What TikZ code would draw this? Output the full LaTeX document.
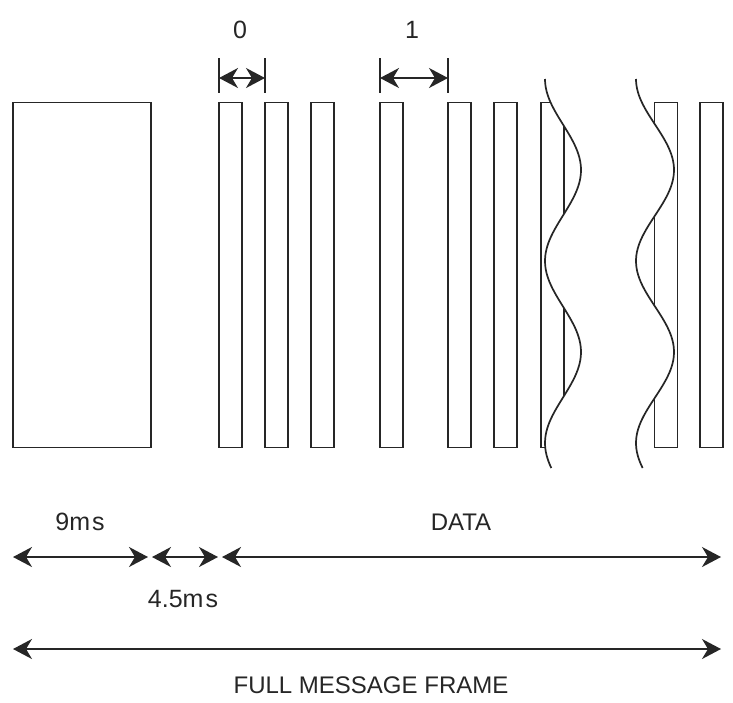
\documentclass[tikz,border=0pt]{standalone}
\usepackage{fontspec}
\setmainfont{Liberation Sans}
\usetikzlibrary{arrows.meta}
\begin{document}
\begin{tikzpicture}[x=1pt,y=-1pt,
  ln/.style={line width=1.7pt, draw=black!85},
  bar/.style={ln, rectangle, inner sep=0pt, minimum width=23pt, minimum height=345pt},
  bigbox/.style={ln, rectangle, inner sep=0pt, minimum width=138pt, minimum height=345pt},
  dim/.style={ln, {Stealth[length=19pt,width=20pt,inset=6pt]}-{Stealth[length=19pt,width=20pt,inset=6pt]}},
  lbl/.style={font=\fontsize{25}{30}\selectfont, text=black!85, inner sep=0pt},
  lblb/.style={font=\fontsize{24}{29}\selectfont, text=black!85, inner sep=0pt},
  wave/.style={line width=1.7pt, draw=black!85}]
\useasboundingbox (0,0) rectangle (733,702);
\fill[white] (0,0) rectangle (733,702);
% large header pulse
\node[bigbox] (hdr) at (82,275) {};
% bars
\node[bar] (b1) at (230.5,275) {};
\node[bar] (b2) at (276.5,275) {};
\node[bar] (b3) at (322.5,275) {};
\node[bar] (b4) at (391.5,275) {};
\node[bar] (b5) at (459.5,275) {};
\node[bar] (b6) at (505.5,275) {};
\node[bar] (b7) at (552.5,275) {};
\node[bar] (b8) at (666,275) {};
\node[bar] (b9) at (711.5,275) {};
% break region (mask)
\path[fill=white] plot[domain=0:389, samples=120, variable=\t] ({563-18*cos(\t*1.978)}, {79+\t})
  -- plot[domain=0:389, samples=120, variable=\t] ({655-19*cos((389-\t)*1.978)}, {468-\t}) -- cycle;
\draw[wave] plot[domain=0:389, samples=120, variable=\t, smooth] ({563-18*cos(\t*1.978)}, {79+\t});
\draw[wave] plot[domain=0:389, samples=120, variable=\t, smooth] ({655-19*cos(\t*1.978)}, {79+\t});
% top brackets
\coordinate (t0a) at (219,58); \coordinate (t0b) at (219,93);
\coordinate (t0c) at (265,58); \coordinate (t0d) at (265,93);
\coordinate (t1a) at (380,58); \coordinate (t1b) at (380,93);
\coordinate (t1c) at (448,58); \coordinate (t1d) at (448,93);
\draw[ln] (t0a) -- (t0b);
\draw[ln] (t0c) -- (t0d);
\draw[ln] (t1a) -- (t1b);
\draw[ln] (t1c) -- (t1d);
\coordinate (d0l) at (219,78); \coordinate (d0r) at (265,78);
\coordinate (d1l) at (380,78); \coordinate (d1r) at (448,78);
\draw[dim] (d0l) -- (d0r);
\draw[dim] (d1l) -- (d1r);
\node[lbl] (l0) at (240,29.5) {0};
\node[lbl] (l1) at (412,29.5) {1};
% bottom dimension arrows
\coordinate (a0) at (13,557); \coordinate (a1) at (148,557);
\coordinate (a2) at (152,557); \coordinate (a3) at (218,557);
\coordinate (a4) at (222,557); \coordinate (a5) at (721,557);
\coordinate (f0) at (13,649); \coordinate (f1) at (721,649);
\draw[dim] (a0) -- (a1);
\draw[dim] (a2) -- (a3);
\draw[dim] (a4) -- (a5);
\draw[dim] (f0) -- (f1);
\node[lbl] (l9) at (80,522) {9m\kern2pt s};
\node[lbl] (l45) at (183,599) {4.5m\kern2pt s};
\node[lblb] (ld) at (461,522) {DATA};
\node[lblb] (lf) at (371,685) {FULL MESSAGE FRAME};
\end{tikzpicture}
\end{document}
